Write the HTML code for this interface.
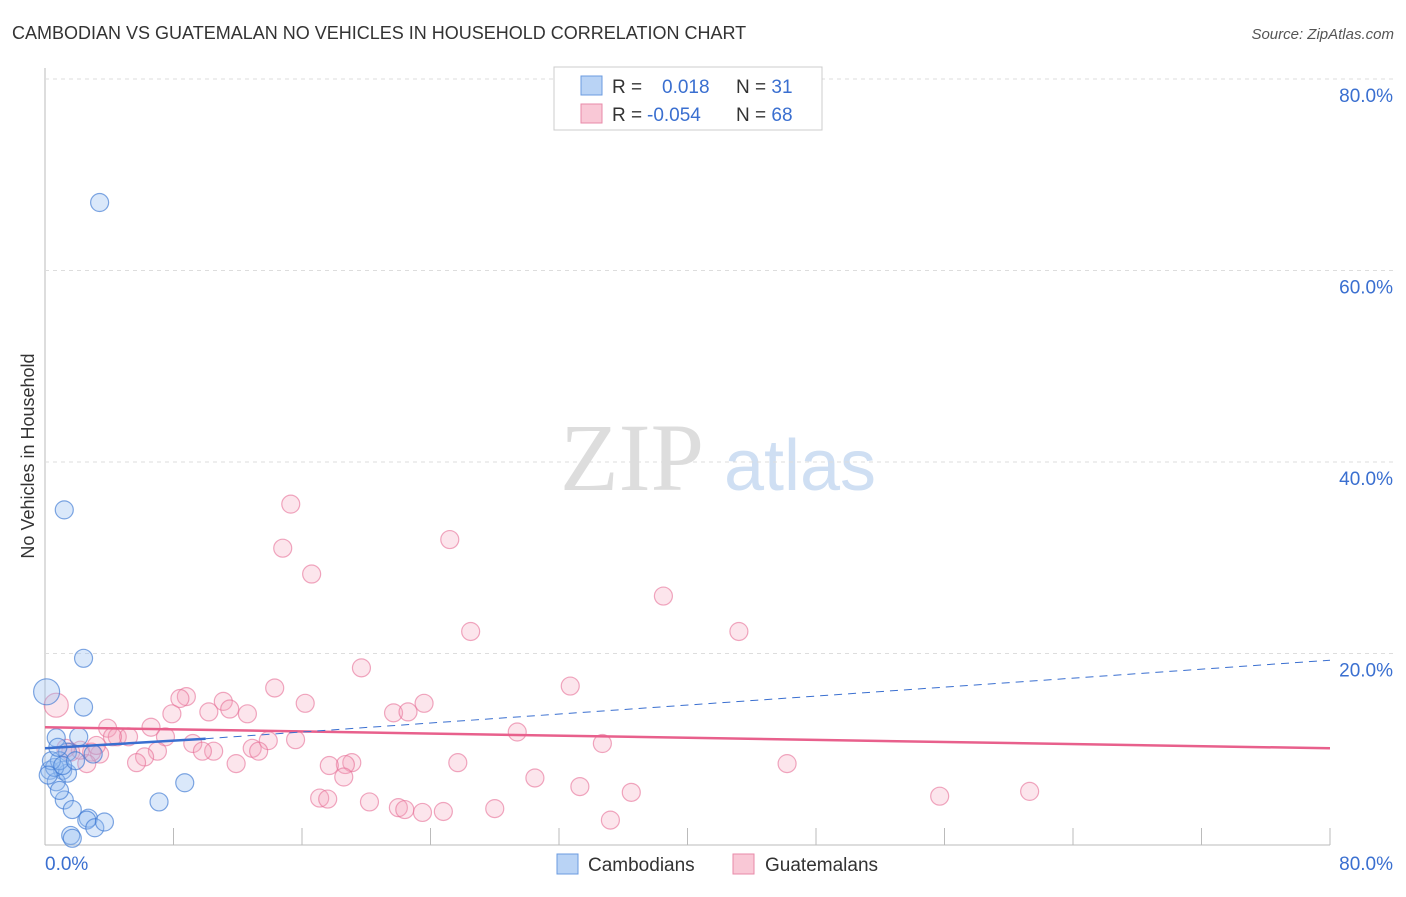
<!DOCTYPE html>
<html><head><meta charset="utf-8"><style>
body{margin:0;background:#fff;font-family:"Liberation Sans",sans-serif}
</style></head><body>
<svg id="c" width="1406" height="892" xmlns="http://www.w3.org/2000/svg">
<text x="12" y="39" font-size="18" fill="#333">CAMBODIAN VS GUATEMALAN NO VEHICLES IN HOUSEHOLD CORRELATION CHART</text>
<text x="1394" y="39" font-size="15" fill="#555" font-style="italic" text-anchor="end">Source: ZipAtlas.com</text>
<text x="632" y="490" font-size="96" fill="#ddd" font-family="Liberation Serif,serif" text-anchor="middle">ZIP</text>
<text x="800" y="490" font-size="72" fill="#cfdff3" text-anchor="middle">atlas</text>
<text transform="translate(34,456) rotate(-90)" font-size="18" fill="#333" text-anchor="middle">No Vehicles in Household</text>
<g id="grid"></g><g id="pts"></g><g id="lines"></g>
<g>
<rect x="554" y="67" width="268" height="63" fill="#fff" stroke="#ccc"/>
<rect x="581" y="76" width="21" height="19" fill="#b9d3f5" stroke="#6b9be0"/>
<rect x="581" y="104" width="21" height="19" fill="#f9c8d6" stroke="#e88aa8"/>
<text x="612" y="93" font-size="19" fill="#333">R = <tspan fill="#3a6fd0" x="662">0.018</tspan><tspan x="736" fill="#333">N = </tspan><tspan fill="#3a6fd0">31</tspan></text>
<text x="612" y="121" font-size="19" fill="#333">R = <tspan fill="#3a6fd0" x="647">-0.054</tspan><tspan x="736" fill="#333">N = </tspan><tspan fill="#3a6fd0">68</tspan></text>
</g>
<g>
<rect x="557" y="854" width="21" height="20" fill="#b9d3f5" stroke="#6b9be0"/>
<text x="588" y="871" font-size="19" fill="#333">Cambodians</text>
<rect x="733" y="854" width="21" height="20" fill="#f9c8d6" stroke="#e88aa8"/>
<text x="765" y="871" font-size="19" fill="#333">Guatemalans</text>
</g>
</svg>
<script>
const yTicks=[20,40,60,80];
const xTickLabels=["0.0%","80.0%"];
const blueX=[3.4,1.2,2.4,2.4,0.1,0.7,2.1,1.4,3.0,0.3,1.1,0.7,1.4,0.6,0.9,1.2,1.7,2.7,2.6,3.1,3.7,1.6,1.7,7.1,8.7,0.4,0.2,0.8,1.1,1.9,0.9];
const blueY=[67.1,35.0,19.5,14.4,16.0,11.2,11.3,9.7,9.5,7.8,7.8,6.6,7.5,8.1,8.8,4.7,3.7,2.8,2.6,1.8,2.4,1.0,0.7,4.5,6.5,8.8,7.3,10.2,8.3,8.8,5.7];
const pinkX=[15.3,14.8,16.6,25.2,38.5,43.2,26.5,19.7,32.7,14.3,16.2,8.8,8.4,11.1,11.5,10.2,12.6,7.9,21.7,22.6,23.6,0.7,3.9,4.5,5.2,6.6,7.5,9.2,10.5,9.8,7.0,12.9,13.9,15.6,13.3,6.2,5.7,3.4,2.9,2.6,29.4,34.7,46.2,25.7,19.1,18.7,17.7,18.6,11.9,30.5,33.3,36.5,55.7,61.3,17.1,17.6,20.2,22.0,22.4,23.5,24.8,28.0,35.2,1.6,2.2,1.3,4.2,3.2];
const pinkY=[35.6,31.0,28.3,31.9,26.0,22.3,22.3,18.5,16.6,16.4,14.8,15.5,15.3,15.0,14.2,13.9,13.7,13.7,13.8,13.9,14.8,14.6,12.2,11.3,11.3,12.3,11.3,10.6,9.8,9.8,9.8,10.1,10.9,11.0,9.8,9.2,8.6,9.5,9.7,8.5,11.8,10.6,8.5,8.6,8.6,8.4,8.3,7.1,8.5,7.0,6.1,5.5,5.1,5.6,4.9,4.8,4.5,3.9,3.7,3.4,3.5,3.8,2.6,9.7,9.9,10.1,11.3,10.4];
const blueSize=[9,9,9,9,13,9,9,9,9,9,9,9,9,9,9,9,9,9,9,9,9,9,9,9,9,9,9,9,9,9,9];
const X=v=>45+v*16.0625, Y=v=>845-v*9.575;
const NS="http://www.w3.org/2000/svg";
function mk(t,a,p){const e=document.createElementNS(NS,t);for(const k in a)e.setAttribute(k,a[k]);document.getElementById(p).appendChild(e);return e;}
mk('line',{x1:45,y1:68,x2:45,y2:845,stroke:'#bbb'},'grid');
mk('line',{x1:45,y1:845,x2:1330,y2:845,stroke:'#bbb'},'grid');
for(let i=1;i<=10;i++){const l=mk('line',{x1:X(i*8),y1:828,x2:X(i*8),y2:845,stroke:'#bbb'},'grid');

}
yTicks.forEach(t=>{const l=mk('line',{x1:45,y1:Y(t),x2:1394,y2:Y(t),stroke:'#ddd','stroke-dasharray':'4,4'},'grid');


const tx=mk('text',{x:1393,y:Y(t)+23,'font-size':19,fill:'#3a6fd0','text-anchor':'end'},'grid');tx.textContent=t.toFixed(1)+'%';

});
const x0=mk('text',{x:45,y:870,'font-size':19,fill:'#3a6fd0'},'grid');x0.textContent=xTickLabels[0];


const x1=mk('text',{x:1393,y:870,'font-size':19,fill:'#3a6fd0','text-anchor':'end'},'grid');x1.textContent=xTickLabels[1];


pinkX.forEach((v,i)=>{const c=mk('circle',{cx:X(v),cy:Y(pinkY[i]),r:i==21?12:9,fill:'rgba(244,160,186,0.28)',stroke:'rgba(230,110,150,0.6)','stroke-width':1.2},'pts');

});
blueX.forEach((v,i)=>{const c=mk('circle',{cx:X(v),cy:Y(blueY[i]),r:blueSize[i],fill:'rgba(150,190,240,0.35)',stroke:'rgba(60,120,210,0.65)','stroke-width':1.2},'pts');

});
const pl=mk('line',{x1:X(0),y1:Y(12.3),x2:X(80),y2:Y(10.1),stroke:'#e8608c','stroke-width':2.5},'lines');


const bd=mk('line',{x1:X(10),y1:Y(11.1),x2:X(80),y2:Y(19.3),stroke:'#3a6fd0','stroke-width':1,'stroke-dasharray':'8,6'},'lines');


const bl=mk('line',{x1:X(0),y1:Y(10.1),x2:X(10),y2:Y(11.1),stroke:'#3a6fd0','stroke-width':2.5},'lines');


</script>
</body></html>
